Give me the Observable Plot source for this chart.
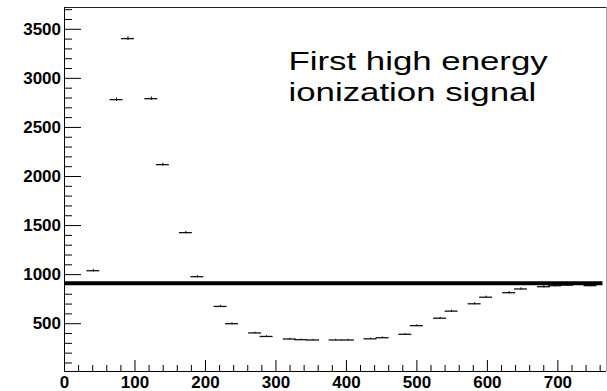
<!DOCTYPE html>
<html><head><meta charset="utf-8">
<script src="https://cdn.jsdelivr.net/npm/d3@7"></script>
<script src="https://cdn.jsdelivr.net/npm/@observablehq/plot@0.6"></script>
<style>
html,body{margin:0;padding:0;background:#fff;}
#chart svg{display:block;}
</style></head><body><div id="chart"></div>
<script>
// Bin centres (x) and contents (counts)
const binCenters = [40.9, 73.8, 90.1, 123.2, 139.5, 172.2, 188.5, 221.4, 237.7, 270.4,
  286.7, 319.6, 335.7, 352.7, 384.6, 402.1, 434.1, 451.3, 483.5, 499.9,
  532.9, 549.2, 581.9, 598.2, 630.9, 647.6, 680.2, 696.1, 713.2, 746.3];
const counts = [1040, 2783, 3405, 2793, 2121, 1428, 979, 676, 500, 406,
  370, 344, 337, 334, 334, 334, 346, 357, 392, 480,
  556, 628, 703, 770, 816, 854, 877, 887, 893, 888];
const errors = [14, 18, 20, 18, 15, 12, 11, 10, 9, 8,
  8, 7, 7, 7, 7, 7, 7, 8, 8, 9,
  10, 10, 11, 11, 12, 12, 12, 12, 12, 12];
const binHalfWidth = 9.2;
const threshold = 912;
const thresholdEnd = 764;
const xMajorTicks = [0, 100, 200, 300, 400, 500, 600, 700];
const xMinorTicks = d3.range(20, 769, 20).filter(v => v % 100 !== 0);
const yMajorTicks = [500, 1000, 1500, 2000, 2500, 3000, 3500];
const yMinorTicks = d3.range(100, 3701, 100).filter(v => v % 500 !== 0);
const annotation = ["First high energy", "ionization signal"];

const W = 607, H = 391, mL = 64, mR = 1, mT = 7, mB = 20;
const frameW = W - mL - mR, frameH = H - mT - mB;
const xDomain = [0, 769], yDomain = [13, 3722];
const pts = binCenters.map((x, i) => ({x, v: counts[i], e: errors[i]}));
const font = "'Liberation Sans', Arial, Helvetica, sans-serif";

const plot = Plot.plot({
  width: W, height: H,
  marginLeft: mL, marginRight: mR, marginTop: mT, marginBottom: mB,
  x: {domain: xDomain, axis: null},
  y: {domain: yDomain, axis: null},
  style: {fontFamily: font, color: "#000", background: "#fff"},
  marks: [
    // frame
    Plot.ruleY([yDomain[1]], {stroke: "#222", strokeWidth: 1}),
    Plot.ruleX([xDomain[1]], {stroke: "#aaa", strokeWidth: 1}),
    Plot.ruleX([xDomain[0]], {stroke: "#000", strokeWidth: 1}),
    Plot.ruleY([yDomain[0]], {stroke: "#000", strokeWidth: 1}),
    // inward ticks
    Plot.ruleX(xMajorTicks, {x: d => d, insetTop: frameH - 11, stroke: "#000"}),
    Plot.ruleX(xMinorTicks, {x: d => d, insetTop: frameH - 6, stroke: "#000"}),
    Plot.ruleY(yMajorTicks, {y: d => d, insetRight: frameW - 17, stroke: "#000"}),
    Plot.ruleY(yMinorTicks, {y: d => d, insetRight: frameW - 8, stroke: "#000"}),
    // tick labels
    Plot.axisX({ticks: xMajorTicks, tickSize: 0, tickPadding: 4, fontSize: 17, fontWeight: "bold",
      tickFormat: d => String(d), fill: "#000", label: null}),
    Plot.axisY({ticks: yMajorTicks, tickSize: 0, tickPadding: 3.5, fontSize: 17, fontWeight: "bold",
      tickFormat: d => String(d), fill: "#000", label: null}),
    // data
    Plot.ruleY(pts, {y: "v", x1: d => d.x - binHalfWidth, x2: d => d.x + binHalfWidth,
      stroke: "#111", strokeWidth: 1.3}),
    Plot.ruleX(pts, {x: "x", y1: d => d.v - d.e, y2: d => d.v + d.e, stroke: "#111", strokeWidth: 1}),
    // threshold
    Plot.ruleY([threshold], {x1: 0, x2: thresholdEnd, stroke: "#000", strokeWidth: 4}),
    // annotation
    Plot.text([annotation.join("\n")], {frameAnchor: "top-left", dx: 224, dy: 39.5,
      textAnchor: "start", lineAnchor: "top", lineHeight: 1.24, fontSize: 25.6, fill: "#000"})
  ]
});
document.getElementById("chart").appendChild(plot);
// the reference lettering of the annotation is horizontally widened: scale it about its left edge
const svgLeft = plot.getBoundingClientRect().left;
Array.from(plot.querySelectorAll("text"))
  .filter(t => t.textContent.includes(annotation[0]))
  .forEach(t => {
    const parent = t.parentNode;
    const ctm = parent.getCTM();
    const L = t.getBoundingClientRect().left - svgLeft - (ctm ? ctm.e : 0);
    const g = document.createElementNS("http://www.w3.org/2000/svg", "g");
    g.setAttribute("transform", `translate(${L},0) scale(1.36,1) translate(${-L},0)`);
    parent.insertBefore(g, t);
    g.appendChild(t);
  });
</script>
</body></html>
